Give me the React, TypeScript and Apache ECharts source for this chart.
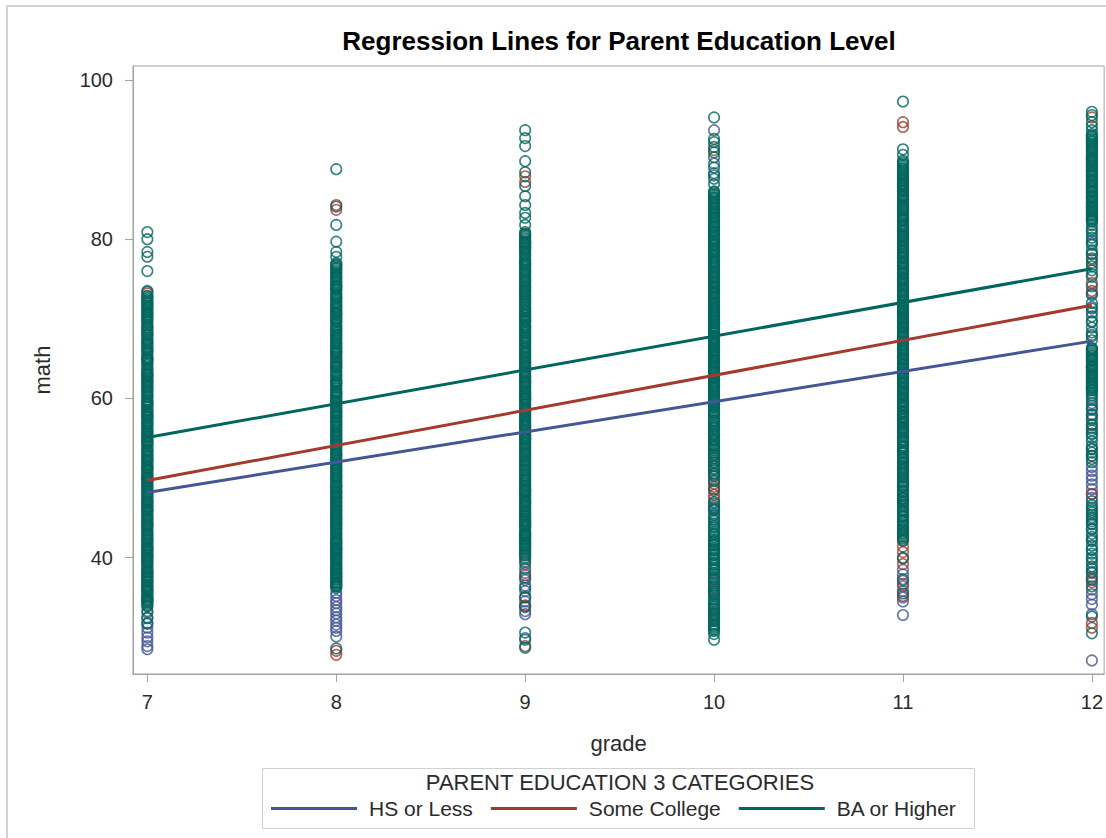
import React, { useEffect, useRef } from "react";
import * as echarts from "echarts";

// Grades on the x axis and the value ticks on the y axis
const grades = [7, 8, 9, 10, 11, 12];
const mathTicks = [40, 60, 80, 100];

// Parent education groups, their colours and fitted regression end points
const groupNames = ["HS or Less", "Some College", "BA or Higher"];
const groupColors = ["#445694", "#A23A2E", "#01665E"];
const fitAtGrade7 = [48.2, 49.7, 55.1];
const fitAtGrade12 = [67.2, 71.7, 76.3];

// Math scores per grade (7..12) for each group
const hsOrLessMath: number[][] = [
  [73.4, 71.5, 68.0, 63.0, 58.5, 55.2, 50.0, 45.8, 42.3, 40.3, 37.0, 35.8, 34.7, 33.1, 32.5, 31.8, 31.2, 30.6, 30.0, 29.5, 28.9, 28.5],
  [75.3, 74.0, 72.6, 70.8, 62.0, 55.5, 49.0, 45.0, 41.9, 41.3, 40.6, 40.1, 38.0, 36.4, 35.6, 35.2, 34.7, 34.3, 33.8, 33.4, 33.0, 32.5, 32.1, 31.6, 31.2, 30.8, 30.1],
  [79.5, 70.0, 60.0, 55.0, 47.0, 44.2, 42.7, 41.5, 40.3, 39.2, 38.1, 37.2, 36.5, 35.8, 35.1, 34.5, 33.9, 33.3, 32.9, 29.9],
  [93.7, 89.5, 88.0, 70.2, 67.6, 66.8, 66.0, 65.3, 59.9, 58.0, 55.5, 54.0, 52.5, 49.8, 46.5, 46.0, 45.5, 45.0, 44.8, 37.6, 37.0, 36.3, 35.7, 35.4, 33.5, 32.0, 31.4],
  [87.0, 75.0, 62.0, 54.8, 53.9, 53.2, 52.5, 51.8, 50.3, 49.6, 48.9, 48.2, 47.4, 46.7, 45.9, 45.2, 44.5, 38.5, 37.9, 37.1, 36.4, 35.8, 35.0, 34.5, 32.8],
  [84.0, 80.6, 79.5, 78.1, 75.6, 73.2, 71.5, 69.7, 68.0, 66.3, 60.1, 59.4, 58.7, 58.0, 57.3, 55.5, 53.6, 51.4, 50.9, 50.3, 49.8, 49.2, 48.6, 48.0, 47.5, 45.1, 44.3, 43.6, 42.3, 41.0, 39.8, 38.2, 37.6, 36.0, 35.4, 34.8, 34.1, 32.9, 27.1],
];

const someCollegeMath: number[][] = [
  [73.2, 65.0, 62.1, 59.4, 57.7, 54.6, 52.3, 51.3, 49.6, 47.0, 46.5, 44.0, 41.2, 39.4, 38.2, 37.5, 36.4, 35.0],
  [84.3, 83.7, 76.8, 70.5, 65.9, 64.6, 64.0, 60.7, 59.7, 58.2, 57.7, 53.0, 48.2, 47.6, 46.9, 46.4, 44.1, 41.0, 38.5, 37.6, 36.9, 28.3, 27.8],
  [87.9, 87.2, 80.6, 62.0, 58.4, 49.8, 48.5, 46.5, 45.3, 44.6, 43.0, 39.8, 37.8, 34.0, 28.9],
  [91.2, 75.1, 74.0, 73.1, 63.1, 59.0, 57.2, 56.3, 54.8, 53.0, 51.5, 50.6, 49.3, 48.9, 48.4, 47.9, 47.4, 37.2, 36.0, 33.0, 32.2],
  [94.7, 94.1, 80.2, 78.5, 70.8, 70.0, 66.0, 59.2, 58.3, 57.4, 51.1, 47.0, 43.6, 42.1, 41.4, 40.7, 39.9, 39.2, 36.7, 35.2],
  [95.3, 90.0, 77.4, 74.5, 73.5, 64.0, 56.7, 52.8, 48.0, 37.4, 36.9, 31.8, 31.2],
];

const baOrHigherMath: number[][] = [
  [
    80.9, 80.0, 78.4, 77.8, 76.0, 73.5, 72.9, 72.6, 72.4, 72.0, 71.7, 71.2, 71.0, 70.6, 70.5, 70.1, 69.7, 69.2, 69.0, 68.7, 68.3, 68.1, 67.6, 67.4, 66.9, 66.7, 66.3, 66.0, 65.8, 65.3, 65.1, 64.8, 64.4, 64.2, 63.7, 63.5, 63.1, 62.8, 62.4, 62.2, 61.8, 61.4, 61.3, 60.9, 60.5, 60.2, 59.9, 59.6, 59.2, 58.9, 58.4, 58.2, 57.9, 57.5, 57.3, 56.8, 56.6, 56.2, 55.9, 55.6, 55.4, 55.0, 54.6, 54.3, 54.1, 53.6, 53.4, 53.0, 52.7, 52.3, 52.1, 51.7, 51.3, 51.1, 50.8, 50.4, 50.1, 49.7, 49.5, 49.1, 48.8, 48.4, 48.2, 47.7, 47.5, 47.1, 46.8, 46.5, 46.1, 45.9, 45.4, 45.2, 44.9, 44.5, 44.2, 43.8, 43.6, 43.2, 42.9, 42.5, 42.3, 41.9, 41.5, 41.3, 40.8, 40.6, 40.2, 39.9, 39.6, 39.3, 38.9, 38.5, 38.3, 37.9, 37.6, 37.2, 36.9, 36.6, 36.2, 35.9, 35.5, 35.3, 34.9, 34.6, 34.2, 33.9, 33.3, 32.4, 31.7,
    72.8, 72.2, 71.9, 71.4, 70.8, 70.3, 69.9, 69.5, 68.9, 68.5, 67.9, 67.2, 67.0, 66.5, 66.1, 65.6, 64.9, 64.6, 63.9, 63.3, 62.9, 62.6, 62.0, 61.6, 61.1, 60.7, 60.3, 59.7, 59.4, 59.0, 58.6, 58.0, 57.7, 57.1, 56.9, 56.4, 56.0, 55.7, 55.2, 54.8, 54.4, 53.9, 53.5, 53.2, 52.8, 52.5, 51.9, 51.5, 51.0, 50.6, 50.3, 49.9, 49.3, 48.9, 48.6, 48.0, 47.9, 47.3, 46.9, 46.3, 46.0, 45.6, 45.0, 44.7, 44.3, 44.0, 43.4, 43.0, 42.7, 42.1, 41.7, 41.1, 40.9, 40.4, 40.0, 39.7, 39.1, 38.7, 38.1, 37.8, 37.4, 37.0, 36.4, 36.0, 35.7, 35.1, 34.7, 34.4, 34.0,
  ],
  [
    88.8, 84.1, 81.8, 79.7, 78.4, 77.8, 77.0, 76.6, 76.3, 76.1, 75.7, 75.2, 75.0, 74.6, 74.4, 73.9, 73.6, 73.3, 72.9, 72.7, 72.2, 72.0, 71.6, 71.3, 70.9, 70.7, 70.2, 69.9, 69.6, 69.3, 68.8, 68.6, 68.2, 67.9, 67.5, 67.3, 66.8, 66.5, 66.2, 65.8, 65.5, 65.1, 64.9, 64.4, 64.1, 63.8, 63.5, 63.1, 62.8, 62.3, 62.1, 61.7, 61.5, 61.0, 60.7, 60.4, 60.1, 59.8, 59.3, 59.1, 58.7, 58.4, 58.0, 57.8, 57.3, 57.0, 56.7, 56.4, 56.0, 55.7, 55.3, 55.1, 54.6, 54.4, 54.0, 53.7, 53.3, 53.1, 52.7, 52.3, 52.0, 51.7, 51.3, 51.0, 50.6, 50.3, 50.0, 49.6, 49.4, 48.9, 48.7, 48.3, 48.0, 47.6, 47.3, 46.9, 46.7, 46.2, 45.9, 45.6, 45.3, 44.9, 44.6, 44.3, 43.9, 43.6, 43.2, 43.0, 42.5, 42.2, 41.9, 41.6, 41.2, 40.9, 40.5, 40.3, 39.8, 39.6, 39.2, 38.9, 38.6, 38.2, 37.9, 37.5, 37.3, 36.8, 36.5, 36.2, 28.6,
    76.8, 76.4, 75.9, 75.5, 74.8, 74.2, 74.1, 73.7, 73.1, 72.5, 71.8, 71.5, 71.1, 70.5, 70.0, 69.7, 69.1, 68.9, 68.4, 68.0, 67.7, 67.1, 66.9, 66.4, 66.0, 65.7, 65.3, 64.7, 64.3, 63.9, 63.3, 62.9, 62.5, 62.0, 61.8, 61.3, 60.9, 60.6, 60.2, 59.6, 59.5, 58.9, 58.5, 58.2, 57.6, 57.2, 56.9, 56.5, 56.2, 55.9, 55.5, 54.9, 54.7, 54.2, 53.9, 53.5, 52.9, 52.5, 52.2, 51.8, 51.5, 51.1, 50.8, 50.4, 50.1, 49.8, 49.2, 49.0, 48.5, 48.2, 47.8, 47.5, 47.1, 46.5, 46.0, 45.8, 45.4, 45.1, 44.7, 44.4, 44.1, 43.7, 43.4, 42.9, 42.7, 42.3, 42.0, 41.7, 41.3, 41.0, 40.7, 40.1, 39.9, 39.4, 39.1, 38.8, 38.4, 38.0, 37.7, 37.2, 37.0, 36.7, 36.4,
  ],
  [
    93.7, 92.7, 91.7, 89.8, 88.4, 86.7, 85.4, 84.3, 83.3, 82.7, 81.8, 80.9, 80.5, 80.3, 79.9, 79.6, 79.2, 78.9, 78.6, 78.2, 78.0, 77.5, 77.2, 76.9, 76.6, 76.2, 75.9, 75.5, 75.3, 74.8, 74.6, 74.2, 73.9, 73.5, 73.2, 72.9, 72.5, 72.3, 71.8, 71.5, 71.2, 70.9, 70.5, 70.2, 69.8, 69.6, 69.1, 68.9, 68.5, 68.2, 67.8, 67.5, 67.2, 66.9, 66.4, 66.2, 65.8, 65.5, 65.1, 64.8, 64.5, 64.1, 63.9, 63.4, 63.2, 62.8, 62.5, 62.1, 61.8, 61.5, 61.1, 60.8, 60.5, 60.1, 59.8, 59.4, 59.2, 58.7, 58.5, 58.1, 57.8, 57.4, 57.1, 56.8, 56.5, 56.1, 55.8, 55.4, 55.1, 54.8, 54.4, 54.1, 53.8, 53.4, 53.1, 52.8, 52.4, 52.1, 51.7, 51.5, 51.0, 50.8, 50.4, 50.1, 49.7, 49.5, 49.1, 48.8, 48.4, 48.1, 47.8, 47.4, 47.1, 46.8, 46.4, 46.2, 45.7, 45.5, 45.1, 44.8, 44.4, 44.1, 43.8, 43.5, 43.0, 42.8, 42.4, 42.1, 41.8, 41.4, 41.1, 40.7, 40.5, 40.0, 39.5, 38.6, 37.5, 36.2, 35.0, 33.8, 30.6, 29.7, 28.7,
    80.7, 80.1, 79.7, 79.4, 79.0, 78.8, 78.4, 77.8, 77.4, 77.0, 76.8, 76.4, 76.0, 75.7, 75.1, 74.9, 74.4, 74.0, 73.7, 73.4, 73.0, 72.7, 72.1, 71.9, 71.4, 71.0, 70.7, 70.4, 70.0, 69.7, 69.3, 69.0, 68.7, 68.3, 68.0, 67.6, 67.3, 67.0, 66.6, 66.0, 65.7, 65.3, 65.0, 64.6, 64.3, 64.0, 63.6, 63.0, 62.7, 62.3, 62.0, 61.6, 61.3, 60.9, 60.6, 60.3, 59.9, 59.6, 59.0, 58.8, 58.3, 57.9, 57.6, 57.3, 56.9, 56.6, 56.3, 55.9, 55.6, 55.3, 54.9, 54.6, 54.3, 53.9, 53.6, 53.2, 52.9, 52.6, 52.2, 51.9, 51.3, 51.1, 50.6, 50.3, 49.9, 49.3, 49.0, 48.6, 48.3, 47.9, 47.6, 47.2, 46.9, 46.6, 46.0, 45.8, 45.3, 44.9, 44.6, 44.2, 43.9, 43.3, 43.1, 42.6, 42.3, 41.9, 41.6, 41.2, 40.9, 40.3,
  ],
  [
    95.3, 92.6, 92.2, 91.6, 90.9, 90.3, 89.0, 88.3, 87.6, 86.9, 86.0, 85.7, 85.3, 85.1, 84.7, 84.4, 84.0, 83.8, 83.4, 83.1, 82.7, 82.4, 82.1, 81.7, 81.5, 81.0, 80.8, 80.4, 80.1, 79.8, 79.4, 79.2, 78.7, 78.5, 78.1, 77.8, 77.4, 77.1, 76.8, 76.5, 76.1, 75.8, 75.4, 75.2, 74.7, 74.5, 74.1, 73.8, 73.4, 73.2, 72.7, 72.5, 72.1, 71.8, 71.5, 71.1, 70.8, 70.5, 70.1, 69.8, 69.4, 69.1, 68.8, 68.4, 68.2, 67.7, 67.4, 67.1, 66.8, 66.4, 66.1, 65.8, 65.4, 65.1, 64.8, 64.5, 64.1, 63.8, 63.4, 63.2, 62.7, 62.5, 62.1, 61.8, 61.5, 61.1, 60.8, 60.4, 60.1, 59.6, 59.2, 58.5, 57.9, 57.6, 56.9, 56.3, 56.0, 55.2, 54.6, 54.3, 53.5, 52.8, 52.2, 51.9, 51.0, 50.2, 49.6, 48.6, 47.0, 46.3, 46.0, 44.0, 43.5, 42.9, 42.3, 41.8, 41.2, 40.6, 40.0, 39.4, 38.7, 38.1, 36.5, 34.1, 33.2, 32.4, 31.0, 30.4, 29.7,
    85.9, 85.5, 85.2, 84.9, 84.5, 84.2, 83.9, 83.6, 83.3, 82.9, 82.6, 82.2, 81.9, 81.6, 81.2, 80.9, 80.6, 80.2, 79.9, 79.6, 79.3, 78.9, 78.6, 78.3, 77.9, 77.6, 77.2, 77.0, 76.6, 76.3, 75.9, 75.6, 75.3, 74.9, 74.6, 74.3, 73.9, 73.6, 73.3, 72.9, 72.6, 72.3, 71.9, 71.6, 71.3, 70.9, 70.6, 70.3, 69.9, 69.6, 69.2, 68.9, 68.6, 68.3, 67.9, 67.6, 67.2, 66.9, 66.6, 66.2, 65.9, 65.6, 65.2, 64.9, 64.6, 64.3, 63.9, 63.6, 63.3, 62.9, 62.6, 62.3, 61.9, 61.6, 61.3, 60.9, 60.6, 60.2,
    59.9, 59.4, 58.8, 58.2, 57.3, 56.6, 55.6, 54.9, 53.9, 53.2, 52.5, 51.5, 50.6, 43.2, 42.6, 42.0, 41.5, 40.9, 40.3, 39.7, 39.0, 38.4, 37.5, 35.5, 34.6, 33.7, 32.8, 31.5,
    59.7, 59.0, 58.3, 57.1, 56.5, 55.8, 55.4, 54.8, 54.1, 53.7, 52.9, 52.0, 51.2, 50.4, 46.8, 46.1, 45.3, 44.6, 44.3, 43.8, 43.0, 42.1, 41.6, 41.0, 40.4, 39.8, 39.2, 38.5, 37.9, 37.3, 36.8, 36.2, 35.8, 35.2, 34.8, 34.3, 33.9, 33.5, 33.0, 32.6, 32.1, 31.7, 31.2, 30.8,
  ],
  [
    97.3, 91.3, 90.6, 89.9, 89.5, 89.3, 88.9, 88.6, 88.2, 87.9, 87.6, 87.3, 86.9, 86.6, 86.2, 86.0, 85.5, 85.3, 84.9, 84.6, 84.2, 83.9, 83.6, 83.2, 82.9, 82.5, 82.3, 81.8, 81.6, 81.2, 80.9, 80.5, 80.3, 79.8, 79.5, 79.2, 78.9, 78.5, 78.2, 77.8, 77.6, 77.1, 76.9, 76.5, 76.2, 75.8, 75.6, 75.1, 74.8, 74.5, 74.2, 73.8, 73.5, 73.1, 72.9, 72.4, 72.2, 71.8, 71.5, 71.2, 70.8, 70.5, 70.2, 69.8, 69.5, 69.1, 68.9, 68.4, 68.2, 67.8, 67.5, 67.2, 66.8, 66.5, 66.2, 65.8, 65.5, 65.1, 64.9, 64.4, 64.2, 63.8, 63.5, 63.2, 62.8, 62.5, 62.1, 61.9, 61.4, 61.2, 60.8, 60.5, 60.2, 59.8, 59.5, 59.1, 58.9, 58.4, 58.2, 57.8, 57.5, 57.1, 56.9, 56.4, 56.2, 55.8, 55.5, 55.1, 54.6, 54.1, 53.5, 53.1, 52.6, 52.0, 51.6, 51.0, 50.5, 50.1, 49.4, 49.0, 48.5, 47.9, 47.5, 46.9, 46.4, 45.9, 45.3, 44.8, 44.2, 43.8, 43.1, 42.6, 42.2, 40.0, 37.3, 35.5,
    89.7, 89.1, 88.8, 88.4, 88.0, 87.7, 87.4, 87.1, 86.8, 86.4, 86.1, 85.7, 85.4, 85.1, 84.8, 84.4, 84.0, 83.8, 83.4, 83.0, 82.7, 82.4, 82.0, 81.7, 81.4, 81.0, 80.7, 80.4, 80.0, 79.7, 79.3, 79.0, 78.7, 78.4, 78.0, 77.7, 77.3, 77.0, 76.7, 76.4, 76.0, 75.7, 75.3, 75.0, 74.7, 74.3, 74.0, 73.7, 73.3, 73.0, 72.7, 72.3, 72.0, 71.7, 71.3, 71.0, 70.7, 70.3, 70.0, 69.7, 69.3, 69.0, 68.7, 68.3, 68.0, 67.7, 67.3, 67.0, 66.7, 66.3, 66.0, 65.7, 65.3, 65.0, 64.7, 64.3, 64.0, 63.7, 63.3, 63.0, 62.7, 62.3, 62.0, 61.7, 61.3, 61.0, 60.7, 60.3, 60.0, 59.7, 59.3, 59.0, 58.7, 58.3, 58.0, 57.7, 57.3, 57.0, 56.7, 56.3, 56.0, 55.7, 55.3, 53.8, 52.3, 50.8, 49.2, 47.7, 46.1, 44.5, 43.0,
    54.8, 54.4, 53.9, 53.3, 52.8, 52.4, 51.9, 51.4, 51.2, 50.6, 50.0, 49.7, 48.9, 48.3, 47.4, 47.1, 46.6, 45.6, 45.1, 44.6, 44.0, 43.5, 43.3, 42.8, 42.4,
  ],
  [
    96.0, 95.6, 94.7, 94.2, 93.7, 93.2, 92.9, 92.5, 92.2, 91.8, 91.6, 91.1, 90.9, 90.5, 90.2, 89.8, 89.5, 89.2, 88.8, 88.5, 88.1, 87.9, 87.4, 87.2, 86.8, 86.5, 86.1, 85.9, 85.4, 85.2, 84.8, 84.5, 84.1, 83.8, 83.5, 83.1, 82.8, 82.5, 82.2, 81.3, 79.8, 78.6, 77.0, 76.1, 72.0, 70.3, 68.9, 67.3, 66.3, 66.0, 65.6, 65.3, 64.9, 64.7, 64.2, 63.9, 63.6, 63.2, 62.9, 62.6, 62.2, 61.9, 61.5, 61.3, 61.0, 58.6, 56.0, 55.1, 54.0, 53.2, 52.4, 46.6, 46.3, 46.0, 45.7, 44.6, 43.0, 41.5, 40.0, 38.6, 32.6, 30.5,
    93.0, 92.7, 92.3, 92.0, 91.4, 91.3, 90.7, 90.3, 90.0, 89.7, 89.3, 89.0, 88.6, 88.3, 88.0, 87.6, 87.3, 87.0, 86.6, 86.3, 86.0, 85.6, 85.3, 85.0, 84.6, 84.3, 84.0, 83.6, 83.3, 83.0, 82.6, 82.3, 66.1, 65.8, 65.4, 65.1, 64.8, 64.4, 64.0, 63.7, 63.4, 63.0, 62.7, 62.4, 62.0, 61.7, 61.4, 61.1,
    81.8, 81.0, 80.2, 79.3, 78.2, 77.6, 76.6, 75.3, 74.1, 73.0, 71.3, 70.8, 69.6, 68.3, 67.8, 60.7, 60.4, 59.8, 59.1, 57.9, 57.5, 56.7, 56.3, 55.6, 54.6, 53.7, 52.8, 52.0, 47.1, 45.4, 44.9, 44.2, 43.6, 42.6, 42.1, 41.0, 40.5, 39.4, 38.9, 38.1, 37.2, 36.4,
  ],
];

const groupScores = [hsOrLessMath, someCollegeMath, baOrHigherMath];

const FONT = "'Liberation Sans', Arial, Helvetica, sans-serif";
const AXIS_GRAY = "#a3a3a3";
const TEXT_DARK = "#2b2b2b";

function buildOption(): echarts.EChartsOption {
  const scatterSeries = groupScores.map((scores, gi) => ({
    name: groupNames[gi] + " scores",
    type: "scatter" as const,
    silent: true,
    symbol: "circle",
    symbolSize: 10.5,
    itemStyle: {
      color: "rgba(0,0,0,0)",
      borderColor: groupColors[gi],
      borderWidth: 1.6,
    },
    data: grades.flatMap((g, i) => scores[i].map((v) => [g, v])),
  }));

  const fitSeries = groupNames.map((name, gi) => ({
    name,
    type: "line" as const,
    silent: true,
    symbol: "none",
    color: groupColors[gi],
    lineStyle: { color: groupColors[gi], width: 3 },
    data: [
      [grades[0], fitAtGrade7[gi]],
      [grades[grades.length - 1], fitAtGrade12[gi]],
    ],
  }));

  return {
    animation: false,
    backgroundColor: "#ffffff",
    textStyle: { fontFamily: FONT },
    grid: {
      left: 133,
      top: 66,
      right: 1,
      bottom: 164,
      show: true,
      borderColor: AXIS_GRAY,
      borderWidth: 1,
      backgroundColor: "#ffffff",
    },
    xAxis: {
      type: "value",
      min: 6.924,
      max: 12.065,
      name: "grade",
      nameLocation: "middle",
      nameGap: 58,
      nameTextStyle: { fontSize: 22, color: TEXT_DARK, fontFamily: FONT },
      axisLine: { show: true, lineStyle: { color: AXIS_GRAY, width: 1 } },
      axisTick: {
        show: true,
        length: 8,
        customValues: grades,
        lineStyle: { color: AXIS_GRAY },
      },
      axisLabel: {
        customValues: grades,
        fontSize: 20,
        margin: 18,
        color: TEXT_DARK,
        fontFamily: FONT,
      },
      splitLine: { show: false },
    },
    yAxis: {
      type: "value",
      min: 25.39,
      max: 101.76,
      name: "math",
      nameLocation: "middle",
      nameGap: 80,
      nameRotate: 90,
      nameTextStyle: { fontSize: 22, color: TEXT_DARK, fontFamily: FONT },
      axisLine: { show: true, lineStyle: { color: AXIS_GRAY, width: 1 } },
      axisTick: {
        show: true,
        length: 8,
        customValues: mathTicks,
        lineStyle: { color: AXIS_GRAY },
      },
      axisLabel: {
        customValues: mathTicks,
        fontSize: 20,
        margin: 20,
        color: TEXT_DARK,
        fontFamily: FONT,
      },
      splitLine: { show: false },
    },
    legend: {
      data: groupNames,
      selectedMode: false,
      orient: "horizontal",
      left: 271,
      top: 798,
      padding: 0,
      icon: "rect",
      itemWidth: 86,
      itemHeight: 3,
      itemGap: 18,
      textStyle: {
        fontSize: 21,
        color: TEXT_DARK,
        fontFamily: FONT,
        padding: [0, 0, 0, 7],
      },
    },
    graphic: [
      {
        type: "rect",
        silent: true,
        shape: { x: 7, y: 6, width: 1120, height: 850 },
        style: { fill: "none", stroke: "#d2d2d2", lineWidth: 2 },
        z: -10,
      },
      {
        type: "rect",
        silent: true,
        shape: { x: 262.5, y: 768.5, width: 712, height: 60 },
        style: { fill: "none", stroke: "#d0d0d0", lineWidth: 1 },
      },
      {
        type: "text",
        silent: true,
        x: 620,
        y: 782,
        style: {
          text: "PARENT EDUCATION 3 CATEGORIES",
          fontSize: 22,
          fontFamily: FONT,
          fill: TEXT_DARK,
          align: "center",
          verticalAlign: "middle",
        },
      },
      {
        type: "text",
        silent: true,
        x: 619,
        y: 41,
        style: {
          text: "Regression Lines for Parent Education Level",
          fontSize: 26,
          fontWeight: "bold",
          fontFamily: FONT,
          fill: "#000000",
          align: "center",
          verticalAlign: "middle",
        },
      },
    ],
    series: [...scatterSeries, ...fitSeries],
  } as echarts.EChartsOption;
}

export default function App() {
  const ref = useRef<HTMLDivElement | null>(null);

  useEffect(() => {
    if (!ref.current) return;
    const chart = echarts.init(ref.current, null, { renderer: "svg" });
    chart.setOption(buildOption());
    return () => {
      chart.dispose();
    };
  }, []);

  return (
    <div
      ref={ref}
      style={{
        position: "absolute",
        left: 0,
        top: 0,
        width: 1106,
        height: 838,
        background: "#ffffff",
      }}
    />
  );
}
